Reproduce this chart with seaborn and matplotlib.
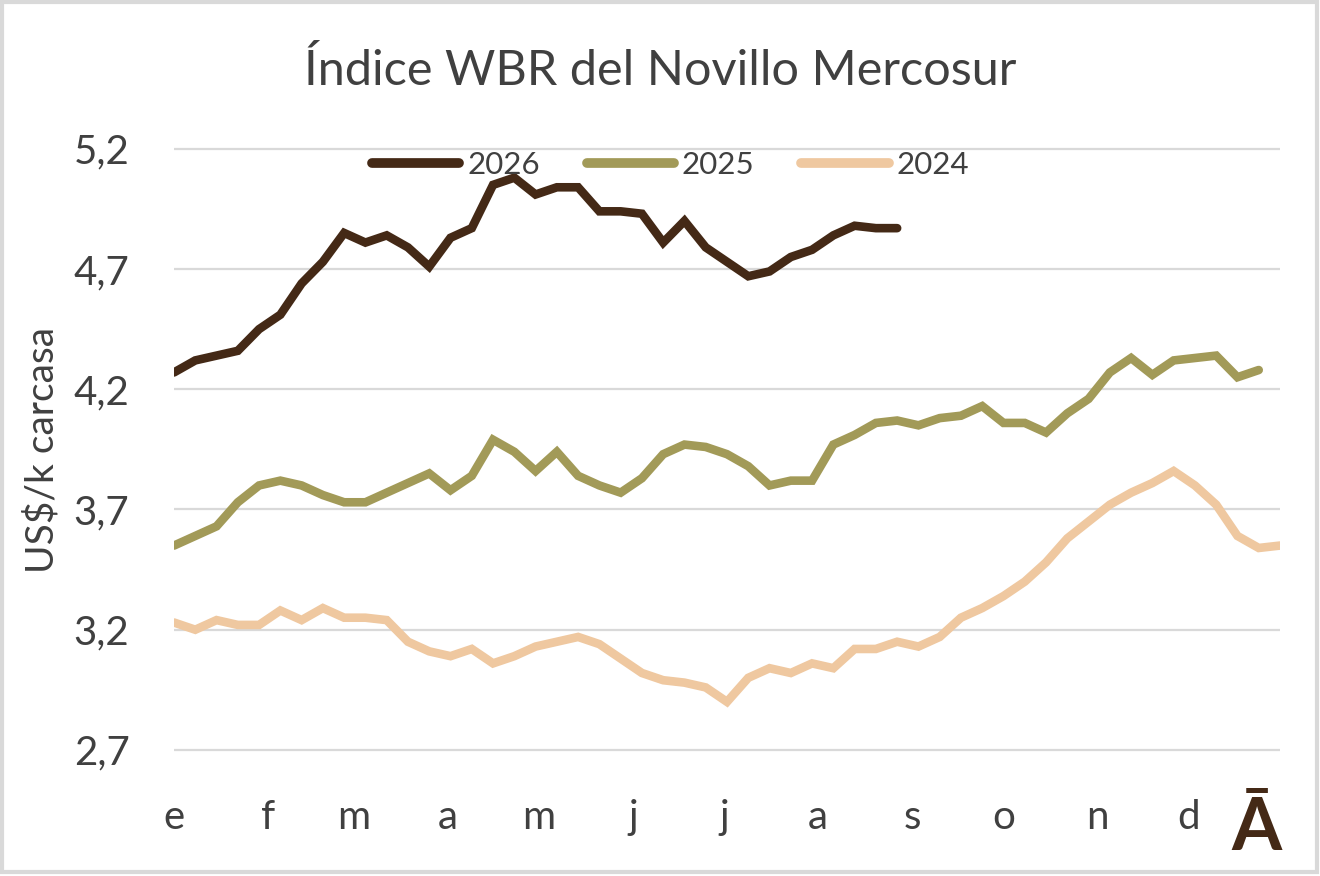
import numpy as np
import pandas as pd
import matplotlib
matplotlib.use("Agg")
import matplotlib.pyplot as plt
import seaborn as sns
from matplotlib.patches import Rectangle

# ---- data ----
years = ["2026", "2025", "2024"]
v2026 = [4.27, 4.32, 4.34, 4.36, 4.45, 4.51, 4.64, 4.73, 4.85, 4.81, 4.84, 4.79,
         4.71, 4.83, 4.87, 5.05, 5.08, 5.01, 5.04, 5.04, 4.94, 4.94, 4.93, 4.81,
         4.90, 4.79, 4.73, 4.67, 4.69, 4.75, 4.78, 4.84, 4.88, 4.87, 4.87]
v2025 = [3.55, 3.59, 3.63, 3.73, 3.80, 3.82, 3.80, 3.76, 3.73, 3.73, 3.77, 3.81,
         3.85, 3.78, 3.84, 3.99, 3.94, 3.86, 3.94, 3.84, 3.80, 3.77, 3.83, 3.93,
         3.97, 3.96, 3.93, 3.88, 3.80, 3.82, 3.82, 3.97, 4.01, 4.06, 4.07, 4.05,
         4.08, 4.09, 4.13, 4.06, 4.06, 4.02, 4.10, 4.16, 4.27, 4.33, 4.26, 4.32,
         4.33, 4.34, 4.25, 4.28]
v2024 = [3.23, 3.20, 3.24, 3.22, 3.22, 3.28, 3.24, 3.29, 3.25, 3.25, 3.24, 3.15,
         3.11, 3.09, 3.12, 3.06, 3.09, 3.13, 3.15, 3.17, 3.14, 3.08, 3.02, 2.99,
         2.98, 2.96, 2.90, 3.00, 3.04, 3.02, 3.06, 3.04, 3.12, 3.12, 3.15, 3.13,
         3.17, 3.25, 3.29, 3.34, 3.40, 3.48, 3.58, 3.65, 3.72, 3.77, 3.81, 3.86,
         3.80, 3.72, 3.59, 3.54, 3.55]
month_labels = ["e", "f", "m", "a", "m", "j", "j", "a", "s", "o", "n", "d"]
month_days = [31, 28, 31, 30, 31, 30, 31, 31, 30, 31, 30, 31]
y_ticks = [2.7, 3.2, 3.7, 4.2, 4.7, 5.2]

series = {"2026": v2026, "2025": v2025, "2024": v2024}
rows = []
for yr in years:
    for i, v in enumerate(series[yr]):
        rows.append({"semana": i, "valor": v, "año": yr})
df = pd.DataFrame(rows)

colors = {"2026": "#442916", "2025": "#A29A58", "2024": "#EFC8A0"}

sns.set_theme(style="white")
plt.rcParams["font.family"] = ["Lato", "DejaVu Sans"]
text_color = "#404040"

fig = plt.figure(figsize=(13.2, 8.76), dpi=100)
# axes: x 174..1280 px, y 5.22 at 144 px, 2.6 at 774 px
ax = fig.add_axes([174 / 1320, 1 - 774 / 876, (1280 - 174) / 1320, (774 - 144) / 876])

sns.lineplot(data=df, x="semana", y="valor", hue="año", hue_order=years,
             palette=colors, ax=ax, legend=True)
for ln in ax.get_lines():
    ln.set_linewidth(6.2)
    ln.set_solid_capstyle("round")
    ln.set_solid_joinstyle("miter")

ax.set_xlim(0, 52)
ax.set_ylim(2.6, 5.22)
ax.set_yticks(y_ticks)
ax.set_yticklabels([f"{t:.1f}".replace(".", ",") for t in y_ticks])
month_pos = np.concatenate([[0], np.cumsum(month_days)[:-1]]) / 7.0
ax.set_xticks(month_pos)
ax.set_xticklabels(month_labels)
ax.tick_params(axis="y", labelsize=29, colors=text_color, length=0, pad=32)
ax.tick_params(axis="x", labelsize=29, colors=text_color, length=0, pad=18)
ax.grid(axis="y", color="#D9D9D9", linewidth=1.6)
ax.grid(axis="x", visible=False)
ax.set_axisbelow(True)
for s in ax.spines.values():
    s.set_visible(False)
ax.set_xlabel("")
ax.set_ylabel("US$/k carcasa", fontsize=28, color=text_color)
ax.yaxis.set_label_coords(-113 / 1106, 0.515)

leg = ax.legend(loc="center", bbox_to_anchor=(0.508, 0.8116),
                bbox_transform=fig.transFigure, ncol=3, frameon=False,
                fontsize=22.5, handlelength=2.8, handletextpad=0.25,
                columnspacing=1.5, borderaxespad=0)
for t in leg.get_texts():
    t.set_color(text_color)
for h in leg.get_lines():
    h.set_linewidth(7)
    h.set_solid_capstyle("round")

fig.text(0.5, 0.92, "Índice WBR del Novillo Mercosur", ha="center", va="center",
         fontsize=35, color=text_color)
fig.text(1256 / 1320, 1 - 830 / 876, "Ā", ha="center", va="center",
         fontsize=52, fontweight="bold", color="#442916")

fig.patches.append(Rectangle((2 / 1320, 4 / 876), 1315 / 1320, 870 / 876,
                             transform=fig.transFigure, fill=False,
                             edgecolor="#D9D9D9", linewidth=3))

fig.savefig("out.png", dpi=100)
